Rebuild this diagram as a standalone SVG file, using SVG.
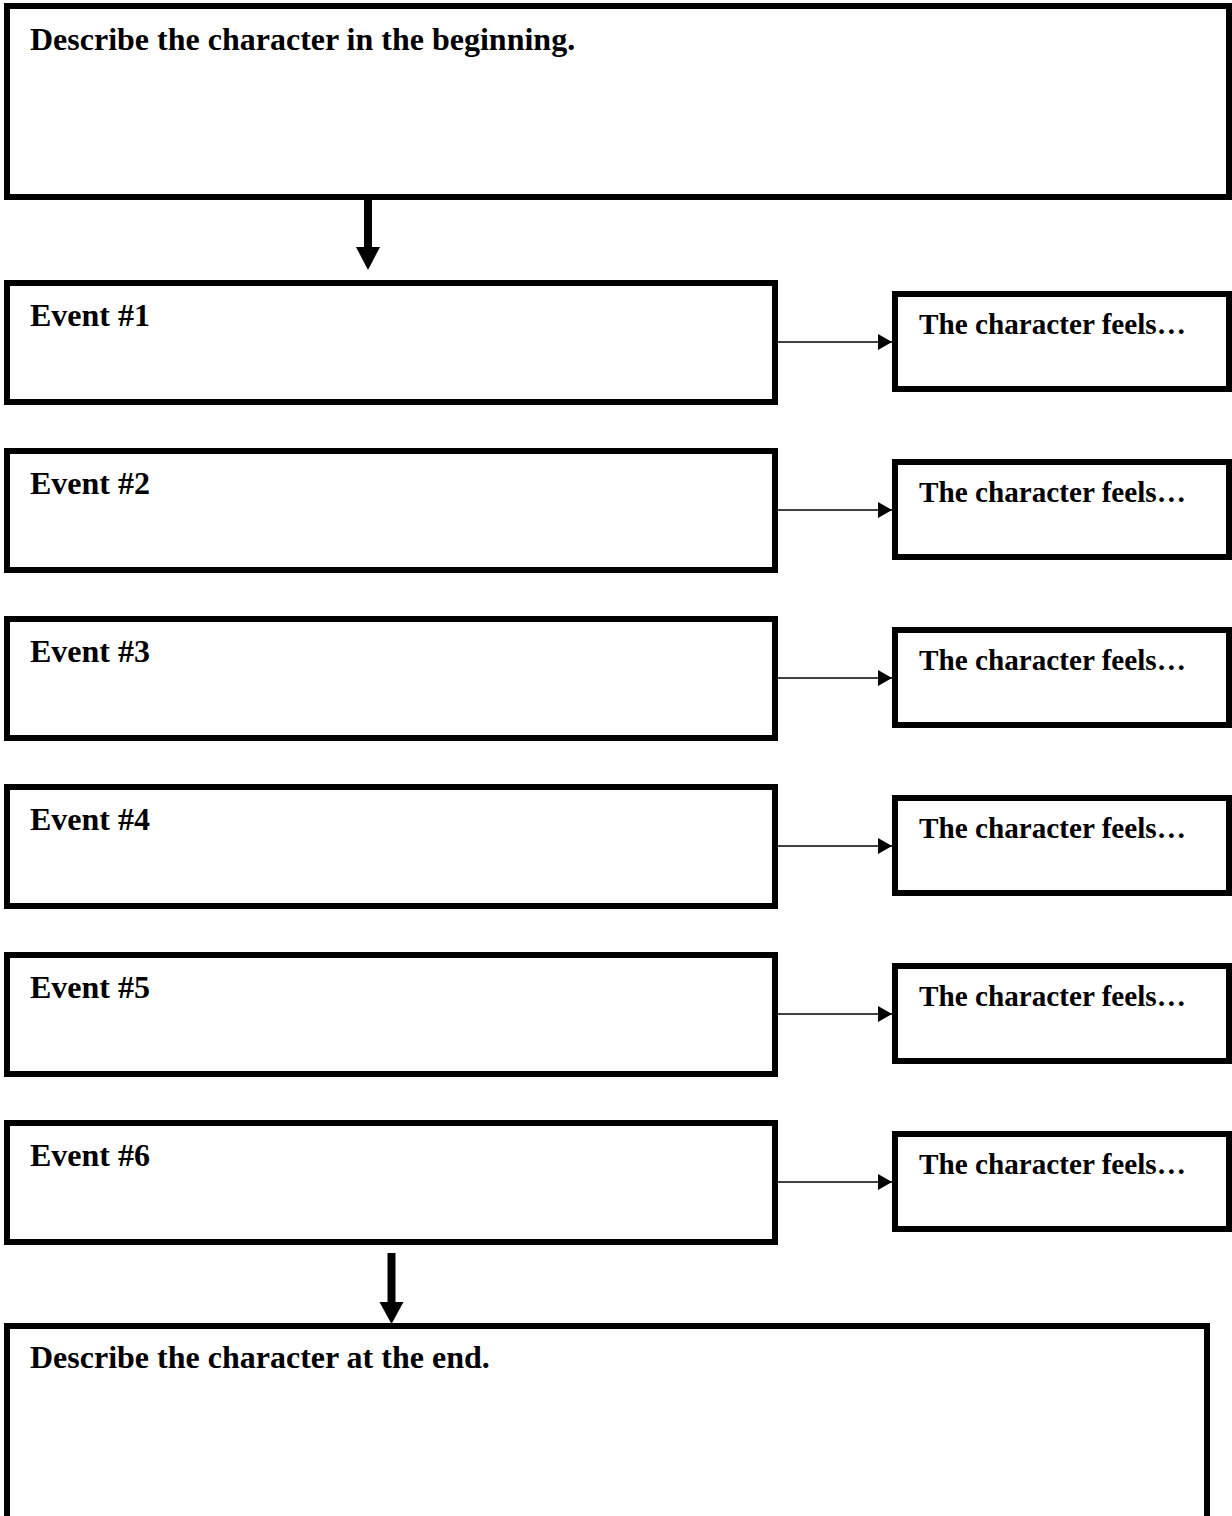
<svg xmlns="http://www.w3.org/2000/svg" width="1232" height="1516" viewBox="0 0 1232 1516">
<style>
.box{fill:#fff;stroke:#000;stroke-width:6}
.t{font-family:"Liberation Serif","Times New Roman",serif;font-weight:bold;fill:#000}
.big{font-size:32px}
.sm{font-size:29.2px}
.conn{stroke:#000;stroke-width:1.6;fill:none}
</style>
<defs>
<marker id="ah" markerUnits="userSpaceOnUse" markerWidth="16" markerHeight="18" refX="14" refY="8" orient="auto">
<path d="M0,0 L14,8 L0,16 Z" fill="#000"/>
</marker>
</defs>
<rect width="1232" height="1516" fill="#fff"/>
<g id="begin">
<rect class="box" x="7" y="6" width="1222" height="191"/>
<text class="t big" x="30" y="50">Describe the character in the beginning.</text>
</g>
<g id="event1"><rect class="box" x="7" y="283" width="768" height="119"/><text class="t big" x="30" y="326">Event #1</text></g>
<g id="event2"><rect class="box" x="7" y="451" width="768" height="119"/><text class="t big" x="30" y="494">Event #2</text></g>
<g id="event3"><rect class="box" x="7" y="619" width="768" height="119"/><text class="t big" x="30" y="662">Event #3</text></g>
<g id="event4"><rect class="box" x="7" y="787" width="768" height="119"/><text class="t big" x="30" y="830">Event #4</text></g>
<g id="event5"><rect class="box" x="7" y="955" width="768" height="119"/><text class="t big" x="30" y="998">Event #5</text></g>
<g id="event6"><rect class="box" x="7" y="1123" width="768" height="119"/><text class="t big" x="30" y="1166">Event #6</text></g>
<g id="feels1"><rect class="box" x="895" y="294" width="334" height="95"/><text class="t sm" x="919" y="334">The character feels…</text></g>
<g id="feels2"><rect class="box" x="895" y="462" width="334" height="95"/><text class="t sm" x="919" y="502">The character feels…</text></g>
<g id="feels3"><rect class="box" x="895" y="630" width="334" height="95"/><text class="t sm" x="919" y="670">The character feels…</text></g>
<g id="feels4"><rect class="box" x="895" y="798" width="334" height="95"/><text class="t sm" x="919" y="838">The character feels…</text></g>
<g id="feels5"><rect class="box" x="895" y="966" width="334" height="95"/><text class="t sm" x="919" y="1006">The character feels…</text></g>
<g id="feels6"><rect class="box" x="895" y="1134" width="334" height="95"/><text class="t sm" x="919" y="1174">The character feels…</text></g>
<g id="end">
<rect class="box" x="7" y="1326" width="1200" height="230"/>
<text class="t big" x="30" y="1368">Describe the character at the end.</text>
</g>
<g id="connectors">
<rect x="364" y="200" width="8" height="48" fill="#000"/>
<polygon points="356,247 380,247 368,270" fill="#000"/>
<rect x="387.5" y="1253" width="8" height="50" fill="#000"/>
<polygon points="379.5,1302 403.5,1302 391.5,1324" fill="#000"/>
<line class="conn" x1="778" y1="342" x2="892" y2="342" marker-end="url(#ah)"/>
<line class="conn" x1="778" y1="510" x2="892" y2="510" marker-end="url(#ah)"/>
<line class="conn" x1="778" y1="678" x2="892" y2="678" marker-end="url(#ah)"/>
<line class="conn" x1="778" y1="846" x2="892" y2="846" marker-end="url(#ah)"/>
<line class="conn" x1="778" y1="1014" x2="892" y2="1014" marker-end="url(#ah)"/>
<line class="conn" x1="778" y1="1182" x2="892" y2="1182" marker-end="url(#ah)"/>
</g>
</svg>
